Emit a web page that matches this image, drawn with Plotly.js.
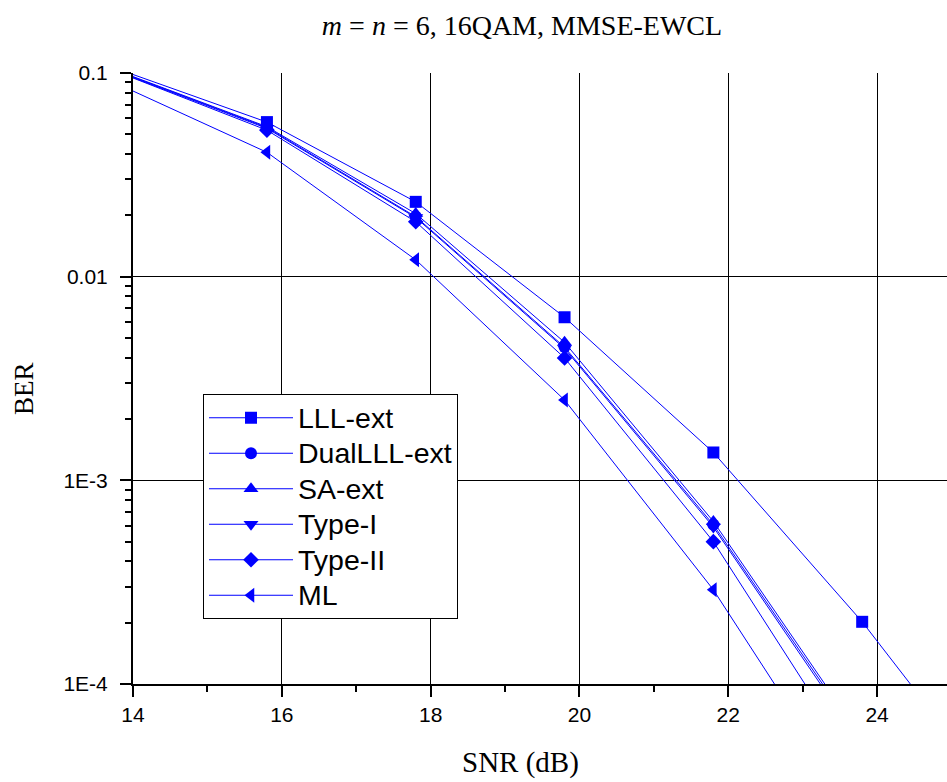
<!DOCTYPE html>
<html>
<head>
<meta charset="utf-8">
<script src="https://cdn.plot.ly/plotly-3.0.1.min.js"></script>
<style>
  html, body { margin: 0; padding: 0; background: #fff; overflow: hidden; }
  #chart { width: 947px; height: 782px; }
</style>
</head>
<body>
<div id="chart"></div>
<script>
// ---- data ----
const snr = [13.8, 15.8, 17.8, 19.8, 21.8, 23.8];
const snrLLL = [13.8, 15.8, 17.8, 19.8, 21.8, 23.8, 25.8];

const berLLL     = [0.1044, 0.0574, 0.0233, 0.00632, 0.00137, 2.02e-4, 2.3e-5];
const berDualLLL = [0.1018, 0.0540, 0.0197, 0.00451, 6.05e-4, 5.2e-5];
const berSA      = [0.1023, 0.0545, 0.0204, 0.00476, 6.28e-4, 5.4e-5];
const berTypeI   = [0.1012, 0.0535, 0.0195, 0.00444, 5.9e-4, 5.0e-5];
const berTypeII  = [0.1009, 0.0524, 0.0186, 0.00399, 5.0e-4, 3.65e-5];
const berML      = [0.0881, 0.0408, 0.0121, 0.00248, 2.9e-4, 2.17e-5];

const seriesNames = ['LLL-ext', 'DualLLL-ext', 'SA-ext', 'Type-I', 'Type-II', 'ML'];
const xTickVals = [14, 16, 18, 20, 22, 24];
const yTickVals = [0.1, 0.01, 0.001, 0.0001];
const yTickText = ['0.1', '0.01', '1E-3', '1E-4'];

// ---- styling ----
const blue = '#0000ff';
const symbols = ['square', 'circle', 'triangle-up', 'triangle-down', 'diamond', 'triangle-left'];
const sizes = [12, 12, 13, 13, 12, 13];
const xs = [snrLLL, snr, snr, snr, snr, snr];
const ys = [berLLL, berDualLLL, berSA, berTypeI, berTypeII, berML];

const traces = seriesNames.map((name, i) => ({
  x: xs[i], y: ys[i],
  name: '<span style="font-size:28.5px">' + name + '</span>',
  type: 'scatter', mode: 'lines+markers', cliponaxis: true,
  line: { color: blue, width: 1 },
  marker: { symbol: symbols[i], size: sizes[i], color: blue }
}));

const axisFont = { family: 'Liberation Sans, Arial, sans-serif', size: 21, color: '#000' };

const layout = {
  width: 947, height: 782,
  margin: { l: 133, r: 0, t: 73, b: 98, pad: 0 },
  paper_bgcolor: '#fff', plot_bgcolor: '#fff',
  showlegend: true,
  title: {
    text: '<i>m</i> = <i>n</i> = 6, 16QAM, MMSE-EWCL',
    font: { family: 'Liberation Serif, Times New Roman, serif', size: 28, color: '#000' },
    x: 522 / 947, xanchor: 'center', y: 1 - 25 / 782, yanchor: 'middle'
  },
  xaxis: {
    type: 'linear', range: [14, 24.94],
    tickvals: xTickVals, ticks: 'outside', ticklen: 11, tickwidth: 2, tickcolor: '#000',
    showline: true, linecolor: '#000', linewidth: 2,
    showgrid: true, gridcolor: '#000', gridwidth: 1,
    zeroline: false, tickfont: axisFont,
    minor: { dtick: 1, ticks: 'outside', ticklen: 6, tickwidth: 2, tickcolor: '#000', showgrid: false }
  },
  yaxis: {
    type: 'log', range: [-4, -1],
    tickvals: yTickVals, ticktext: yTickText,
    ticks: 'outside', ticklen: 11, tickwidth: 2, tickcolor: '#000',
    ticklabelstandoff: 8,
    showline: true, linecolor: '#000', linewidth: 2,
    showgrid: true, gridcolor: '#000', gridwidth: 1,
    zeroline: false, tickfont: axisFont,
    minor: { dtick: 'D1', ticks: 'outside', ticklen: 6, tickwidth: 2, tickcolor: '#000', showgrid: false }
  },
  legend: {
    x: (203 - 133) / 814, y: (684 - 394) / 611, xanchor: 'left', yanchor: 'top',
    bgcolor: '#fff', bordercolor: '#000', borderwidth: 1,
    font: { family: 'Liberation Sans, Arial, sans-serif', size: 25, color: '#000' },
    itemwidth: 84
  },
  annotations: [
    { text: 'SNR (dB)', xref: 'paper', yref: 'paper', x: (520 - 133) / 814, y: -(762 - 684) / 611,
      xanchor: 'center', yanchor: 'middle', showarrow: false,
      font: { family: 'Liberation Serif, Times New Roman, serif', size: 29, color: '#000' } },
    { text: 'BER', xref: 'paper', yref: 'paper', x: (24 - 133) / 814, y: (684 - 389) / 611,
      xanchor: 'center', yanchor: 'middle', showarrow: false, textangle: -90,
      font: { family: 'Liberation Serif, Times New Roman, serif', size: 27, color: '#000' } }
  ]
};

Plotly.newPlot('chart', traces, layout, { displayModeBar: false, staticPlot: true });
</script>
</body>
</html>
